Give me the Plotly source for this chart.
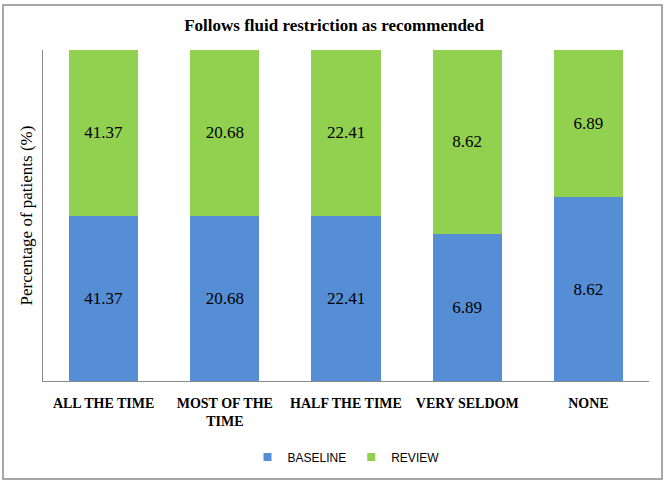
import plotly.graph_objects as go

categories = ["ALL THE TIME", "MOST OF THE<br>TIME", "HALF THE TIME", "VERY SELDOM", "NONE"]
baseline = [41.37, 20.68, 22.41, 6.89, 8.62]
review = [41.37, 20.68, 22.41, 8.62, 6.89]

W, H = 668, 484
L, R, T, B = 43, 19, 50, 103
pw, ph = W - L - R, H - T - B

series = [("BASELINE", baseline, "#558ED5"), ("REVIEW", review, "#92D050")]

fig = go.Figure()
for name, vals, col in series:
    fig.add_trace(go.Bar(
        x=categories, y=vals, name=name, marker_color=col, marker_line_width=0,
        legendgroup=name, showlegend=False,
        text=[f"{v:.2f}" for v in vals], textposition="inside", insidetextanchor="middle",
        textfont=dict(family="Liberation Serif", size=17, color="black"),
        textangle=0,
    ))
# legend entries with small square keys
for name, vals, col in series:
    fig.add_trace(go.Scatter(
        x=[None], y=[None], mode="markers", name=name, legendgroup=name,
        marker=dict(symbol="square", size=8, color=col), hoverinfo="skip",
    ))

fig.update_layout(
    barmode="stack", barnorm="percent", bargap=0.43,
    width=W, height=H, margin=dict(l=L, r=R, t=T, b=B, autoexpand=False),
    paper_bgcolor="white", plot_bgcolor="white",
    title=dict(text="<b>Follows fluid restriction as recommended</b>", x=0.5, xanchor="center",
               y=1 - 25 / H, yanchor="middle", automargin=False,
               font=dict(family="Liberation Serif", size=17, color="black")),
    xaxis=dict(showline=True, linecolor="#898989", linewidth=1, ticks="", automargin=False,
               tickfont=dict(family="Liberation Serif", size=14, color="black"),
               ticklabelstandoff=9),
    yaxis=dict(range=[0, 100], showline=True, linecolor="#898989", linewidth=1, automargin=False,
               showticklabels=False, showgrid=False, ticks="", zeroline=False,
               title=dict(text="Percentage of patients (%)", standoff=5,
                          font=dict(family="Liberation Serif", size=17, color="black"))),
    legend=dict(orientation="h", x=0.5, xanchor="center", y=-(457 - (T + ph)) / ph, yanchor="middle",
                traceorder="normal",
                font=dict(family="Liberation Sans", size=12, color="black"), itemwidth=30),
    showlegend=True,
)
fig.update_xaxes(tickprefix="<b>", ticksuffix="</b>")

fig.add_shape(type="rect", xref="paper", yref="paper",
              x0=(3 - L) / pw, x1=(662 - L) / pw,
              y0=(H - B - 479) / ph, y1=(H - B - 5) / ph,
              line=dict(color="#8c8c8c", width=1.5), fillcolor="rgba(0,0,0,0)", layer="below")

fig.write_html("out.html", config={"displayModeBar": False},
               post_script="document.body.style.margin='0px';document.body.style.overflow='hidden';")
